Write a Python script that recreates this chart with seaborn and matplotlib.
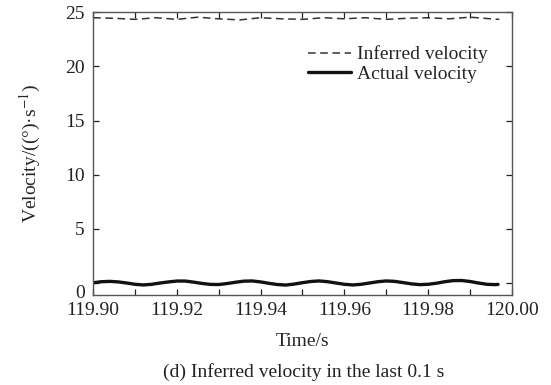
import matplotlib
matplotlib.use("Agg")
import matplotlib.pyplot as plt
import matplotlib.transforms as mtransforms
import seaborn as sns
import pandas as pd
import numpy as np

# ---- data ----
t_actual = [119.900, 119.902, 119.904, 119.906, 119.908, 119.910, 119.912, 119.914,
            119.916, 119.918, 119.920, 119.922, 119.924, 119.926, 119.928, 119.930,
            119.932, 119.934, 119.936, 119.938, 119.940, 119.942, 119.944, 119.946,
            119.948, 119.950, 119.952, 119.954, 119.956, 119.958, 119.960, 119.962,
            119.964, 119.966, 119.968, 119.970, 119.972, 119.974, 119.976, 119.978,
            119.980, 119.982, 119.984, 119.986, 119.988, 119.990, 119.992, 119.994,
            119.996, 119.9967]
v_actual = [0.02, 0.12, 0.15, 0.10, 0.00, -0.12, -0.18, -0.12,
            0.00, 0.10, 0.18, 0.18, 0.08, -0.04, -0.13, -0.14,
            -0.05, 0.07, 0.17, 0.19, 0.10, -0.03, -0.14, -0.19,
            -0.10, 0.03, 0.14, 0.19, 0.12, 0.00, -0.12, -0.18,
            -0.12, 0.00, 0.12, 0.19, 0.15, 0.04, -0.08, -0.15,
            -0.12, -0.02, 0.12, 0.22, 0.23, 0.14, 0.00, -0.12,
            -0.15, -0.13]

t_inferred = [119.900, 119.905, 119.910, 119.915, 119.920, 119.925, 119.930, 119.935,
              119.940, 119.945, 119.950, 119.955, 119.960, 119.965, 119.970, 119.975,
              119.980, 119.985, 119.990, 119.995, 119.997]
v_inferred = [24.50, 24.45, 24.35, 24.50, 24.35, 24.55, 24.40, 24.30,
              24.50, 24.40, 24.35, 24.50, 24.40, 24.50, 24.35, 24.45,
              24.50, 24.40, 24.55, 24.40, 24.35]

x_ticks = [119.90, 119.92, 119.94, 119.96, 119.98, 120.00]
x_tick_labels = ["119.90", "119.92", "119.94", "119.96", "119.98", "120.00"]
y_ticks = [0, 5, 10, 15, 20, 25]

sns.set_style("ticks")
plt.rcParams["font.family"] = ["Liberation Serif", "DejaVu Serif"]
plt.rcParams["mathtext.fontset"] = "stix"

FS = 14

fig = plt.figure(figsize=(5.51, 3.85), dpi=100)
ax = fig.add_axes([0.169, 0.234, 0.760, 0.734])

df_inf = pd.DataFrame({"t": t_inferred, "v": v_inferred})
df_act = pd.DataFrame({"t": t_actual, "v": v_actual})

sns.lineplot(data=df_inf, x="t", y="v", ax=ax, color="#333333", linewidth=1.1,
             linestyle=(0, (5, 3)), label="Inferred velocity")
sns.lineplot(data=df_act, x="t", y="v", ax=ax, color="#111111", linewidth=2.4,
             label="Actual velocity")

ax.set_xlim(119.90, 120.00)
ax.set_ylim(-1.1, 25)
ax.set_xticks(x_ticks)
ax.set_xticklabels(x_tick_labels)
ax.set_xticks(np.round(np.arange(119.90, 120.001, 0.01), 2), minor=True)
ax.set_yticks(y_ticks)

ax.tick_params(axis="both", which="both", direction="in", top=True, right=True,
               labelsize=FS, colors="#222222", width=0.9)
ax.tick_params(axis="both", which="major", length=4)
ax.tick_params(axis="x", which="both", pad=5)
ax.tick_params(axis="y", which="major", pad=6)
ax.tick_params(axis="x", which="minor", length=4)
for s in ax.spines.values():
    s.set_color("#555555")
    s.set_linewidth(1.0)

# the "0" label sits lower in the reference
lbl0 = ax.get_yticklabels()[0]
lbl0.set_transform(lbl0.get_transform() + mtransforms.ScaledTranslation(0, -0.08, fig.dpi_scale_trans))

ax.set_xlabel("Time/s", fontsize=FS, labelpad=10)
ax.set_ylabel("Velocity/((°)·s$^{-1}$)", fontsize=FS, labelpad=16)

fig.text(0.551, 0.034, "(d) Inferred velocity in the last 0.1 s", ha="center",
         va="center", fontsize=FS, color="#222222")

leg = ax.legend(loc="upper right", bbox_to_anchor=(0.962, 0.91), frameon=False,
                fontsize=FS, handlelength=2.2, handletextpad=0.35,
                labelspacing=0.1, borderaxespad=0.0)

fig.savefig("out.png", dpi=100)
